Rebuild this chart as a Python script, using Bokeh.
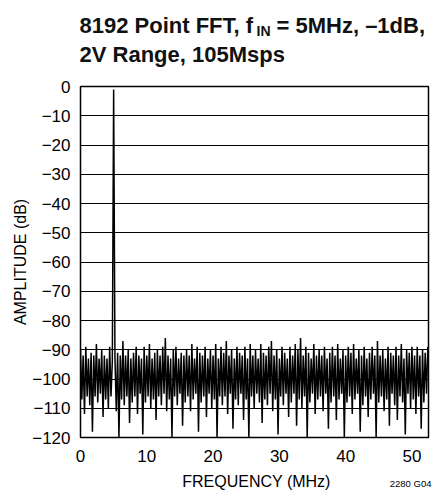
from bokeh.plotting import figure
from bokeh.models import FixedTicker, Range1d
from bokeh.layouts import column
from bokeh.core.properties import value
from bokeh.embed import file_html
from bokeh.resources import INLINE

# ---- text ----
title_line1_a = "8192 Point FFT, f"
title_sub = "IN"
title_line1_b = "= 5MHz, \u20131dB,"
title_line2 = "2V Range, 105Msps"
x_label = "FREQUENCY (MHz)"
y_label = "AMPLITUDE (dB)"
fig_id = "2280 G04"

# ---- axes ----
x_ticks = [0, 10, 20, 30, 40, 50]
y_ticks = [-120, -110, -100, -90, -80, -70, -60, -50, -40, -30, -20, -10, 0]
y_tick_labels = ["\u2212120", "\u2212110", "\u2212100", "\u221290", "\u221280", "\u221270",
                 "\u221260", "\u221250", "\u221240", "\u221230", "\u221220", "\u221210", "0"]
x_max_mhz = 52.5

# ---- spectrum (one value per 0.2 MHz bin) ----
bin_step_mhz = 0.2
amplitude_db = [
    -90, -107, -92, -112, -89, -106, -93, -109, -91, -118, -92, -106, -88, -108, -93, -105, -90, -113, -92, -107,
    -93, -110, -89, -106, -94, -1, -93, -111, -91, -120, -92, -107, -87, -109, -92, -106, -90, -115, -93, -108,
    -91, -106, -89, -112, -92, -105, -93, -119, -89, -108, -92, -106, -88, -110, -93, -107, -91, -114, -90, -106,
    -92, -109, -89, -105, -86, -111, -92, -107, -93, -120, -90, -106, -89, -109, -93, -105, -91, -116, -92, -108,
    -90, -106, -92, -111, -88, -107, -93, -105, -89, -118, -91, -108, -92, -106, -89, -113, -93, -105, -90, -110,
    -92, -107, -88, -120, -93, -106, -89, -109, -91, -106, -87, -112, -92, -105, -90, -117, -93, -107, -89, -109,
    -91, -105, -92, -114, -89, -107, -93, -120, -88, -106, -92, -110, -90, -105, -93, -108, -88, -115, -91, -107,
    -92, -109, -89, -105, -87, -111, -92, -107, -90, -119, -93, -106, -89, -109, -91, -105, -93, -113, -89, -108,
    -92, -105, -88, -116, -90, -107, -86, -110, -92, -106, -89, -120, -91, -108, -93, -105, -88, -112, -92, -107,
    -90, -106, -92, -111, -89, -105, -93, -117, -91, -108, -89, -106, -92, -114, -88, -107, -93, -105, -90, -120,
    -92, -108, -89, -106, -91, -112, -88, -107, -93, -105, -90, -118, -92, -109, -89, -106, -93, -113, -91, -107,
    -89, -105, -92, -120, -87, -108, -92, -106, -90, -111, -93, -107, -89, -116, -91, -105, -92, -109, -89, -114,
    -92, -106, -88, -108, -93, -119, -90, -105, -91, -110, -89, -107, -92, -112, -89, -106, -92, -117, -90, -108,
    -91, -105, -89,
]
freq_mhz = [round(i * bin_step_mhz, 1) for i in range(len(amplitude_db))]

W = 432
FONT = "Liberation Sans"
K = 0.36   # measured shift of a text glyph's baseline, in em


def strip(height):
    f = figure(width=W, height=height, output_backend="svg", toolbar_location=None, title=None,
               x_range=Range1d(0, W), y_range=Range1d(0, height),
               x_axis_type=None, y_axis_type=None,
               min_border=0, min_border_left=0, min_border_right=0,
               min_border_top=0, min_border_bottom=0)
    f.outline_line_color = None
    f.grid.visible = False
    f.frame_align = False
    return f


# ---- title strip (x: page x, y: up from strip bottom) ----
TH = 72
t = strip(TH)
t.text(x=[79, 79], y=[TH - 32.5 + K * 22, TH - 62 + K * 22], text=[title_line1_a, title_line2],
       text_font=value(FONT), text_font_style="bold", text_font_size="22px",
       text_color="#111111", text_align="left", text_baseline="alphabetic")
t.text(x=[256], y=[TH - 36 + K * 14], text=[title_sub],
       text_font=value(FONT), text_font_style="bold", text_font_size="14px",
       text_color="#111111", text_align="left", text_baseline="alphabetic")
t.text(x=[276], y=[TH - 32.5 + K * 22], text=[title_line1_b],
       text_font=value(FONT), text_font_style="bold", text_font_size="22px",
       text_color="#111111", text_align="left", text_baseline="alphabetic")

# ---- main chart ----
MH = 396
p = figure(width=W, height=MH, output_backend="svg", toolbar_location=None, title=None,
           x_range=Range1d(0, x_max_mhz), y_range=Range1d(-120, 0),
           min_border_left=80, min_border_right=4, min_border_top=14, min_border_bottom=31)
p.frame_align = False

p.line(freq_mhz, amplitude_db, line_color="black", line_width=1.5)

p.outline_line_color = "black"
p.outline_line_width = 1.5
p.outline_line_alpha = 1

p.xgrid.visible = False
p.ygrid.ticker = FixedTicker(ticks=y_ticks)
p.ygrid.grid_line_color = "black"
p.ygrid.grid_line_width = 1
p.ygrid.grid_line_alpha = 1
p.ygrid.level = "overlay"

p.xaxis.ticker = FixedTicker(ticks=x_ticks)
p.yaxis.ticker = FixedTicker(ticks=y_ticks)
p.yaxis.major_label_overrides = {tk: s for tk, s in zip(y_ticks, y_tick_labels)}

for ax in (p.xaxis[0], p.yaxis[0]):
    ax.axis_line_color = None
    ax.major_tick_line_color = None
    ax.minor_tick_line_color = None
    ax.major_tick_out = 0
    ax.major_tick_in = 0
    ax.minor_tick_out = 0
    ax.minor_tick_in = 0
    ax.major_label_text_font = FONT
    ax.major_label_text_font_size = "17px"
    ax.major_label_text_color = "black"
    ax.axis_label_text_font = FONT
    ax.axis_label_text_font_size = "16px"
    ax.axis_label_text_font_style = "normal"
    ax.axis_label_text_color = "black"

p.xaxis.major_label_standoff = 12
p.yaxis.major_label_standoff = 10
p.yaxis.axis_label = y_label
p.yaxis.axis_label_standoff = 0

# ---- bottom strip: x-axis title and figure id ----
BH = 493 - TH - MH
b = strip(BH)
b.text(x=[256], y=[493 - 487 + K * 16], text=[x_label], text_font=value(FONT), text_font_size="16px",
       text_color="black", text_align="center", text_baseline="alphabetic")
b.text(x=[431], y=[493 - 486 + K * 9.5], text=[fig_id], text_font=value(FONT), text_font_size="9.5px",
       text_color="black", text_align="right", text_baseline="alphabetic")

layout = column(t, p, b, spacing=0)
open("out.html", "w").write(file_html(layout, INLINE))
